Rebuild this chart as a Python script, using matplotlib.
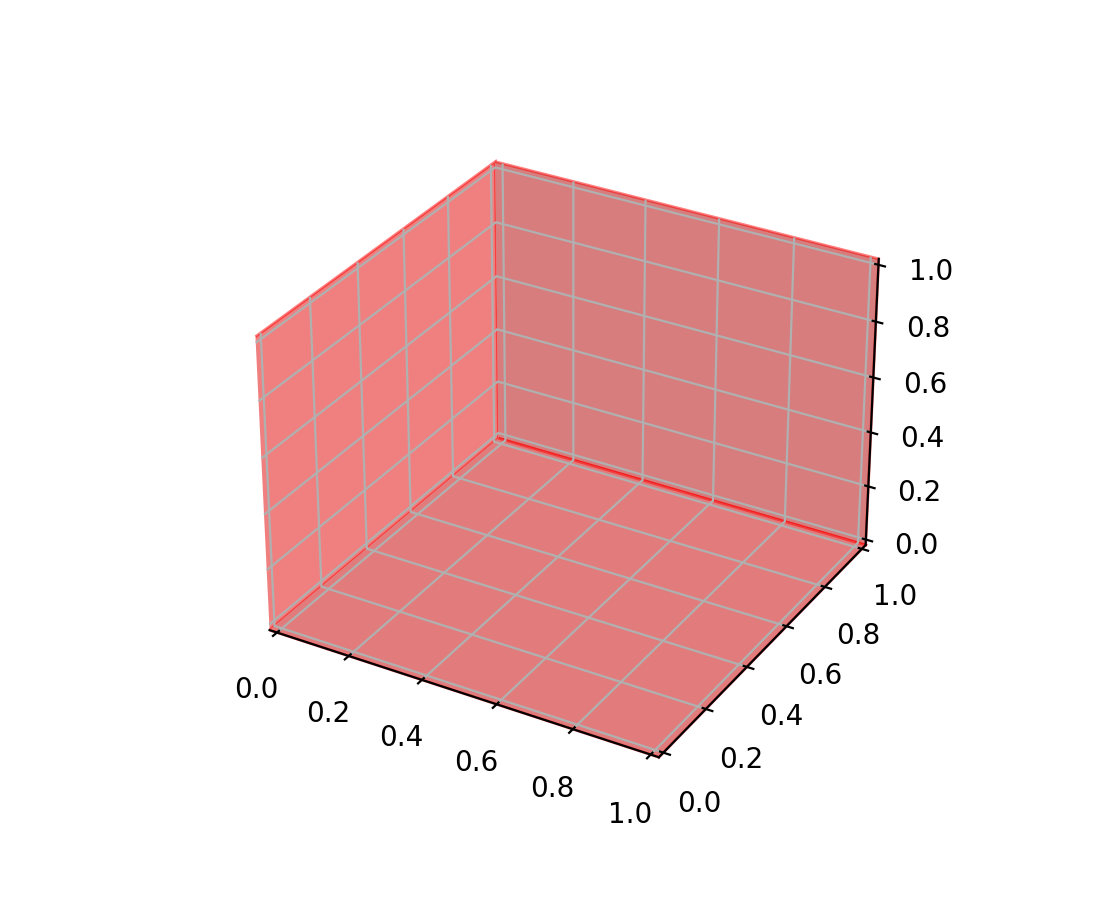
import matplotlib
matplotlib.use('Agg')
import matplotlib.pyplot as plt

# axis ranges and ticks
limits = (0.0, 1.0)
ticks = [0.0, 0.2, 0.4, 0.6, 0.8, 1.0]

# pane colours (left, back, floor)
PANE_X = '#f08080'
PANE_Y = '#d77d7d'
PANE_Z = '#e27c7c'
PANE_EDGE = (1.0, 0.0, 0.0, 0.5)

# old-style 3d padding around the data limits
plt.rcParams['axes3d.automargin'] = True


def main():
    fig = plt.figure(figsize=(5.5, 4.5), dpi=200)
    ax = fig.add_subplot(projection='3d')
    ax.set_xlim(*limits)
    ax.set_ylim(*limits)
    ax.set_zlim(*limits)
    ax.set_xticks(ticks)
    ax.set_yticks(ticks)
    ax.set_zticks(ticks)

    for axis, col in [(ax.xaxis, PANE_X), (ax.yaxis, PANE_Y), (ax.zaxis, PANE_Z)]:
        axis.pane.set_alpha(None)
        axis.pane.set_facecolor(col)
        axis.pane.set_edgecolor(PANE_EDGE)

    fig.savefig('out.png')


if __name__ == '__main__':
    main()
